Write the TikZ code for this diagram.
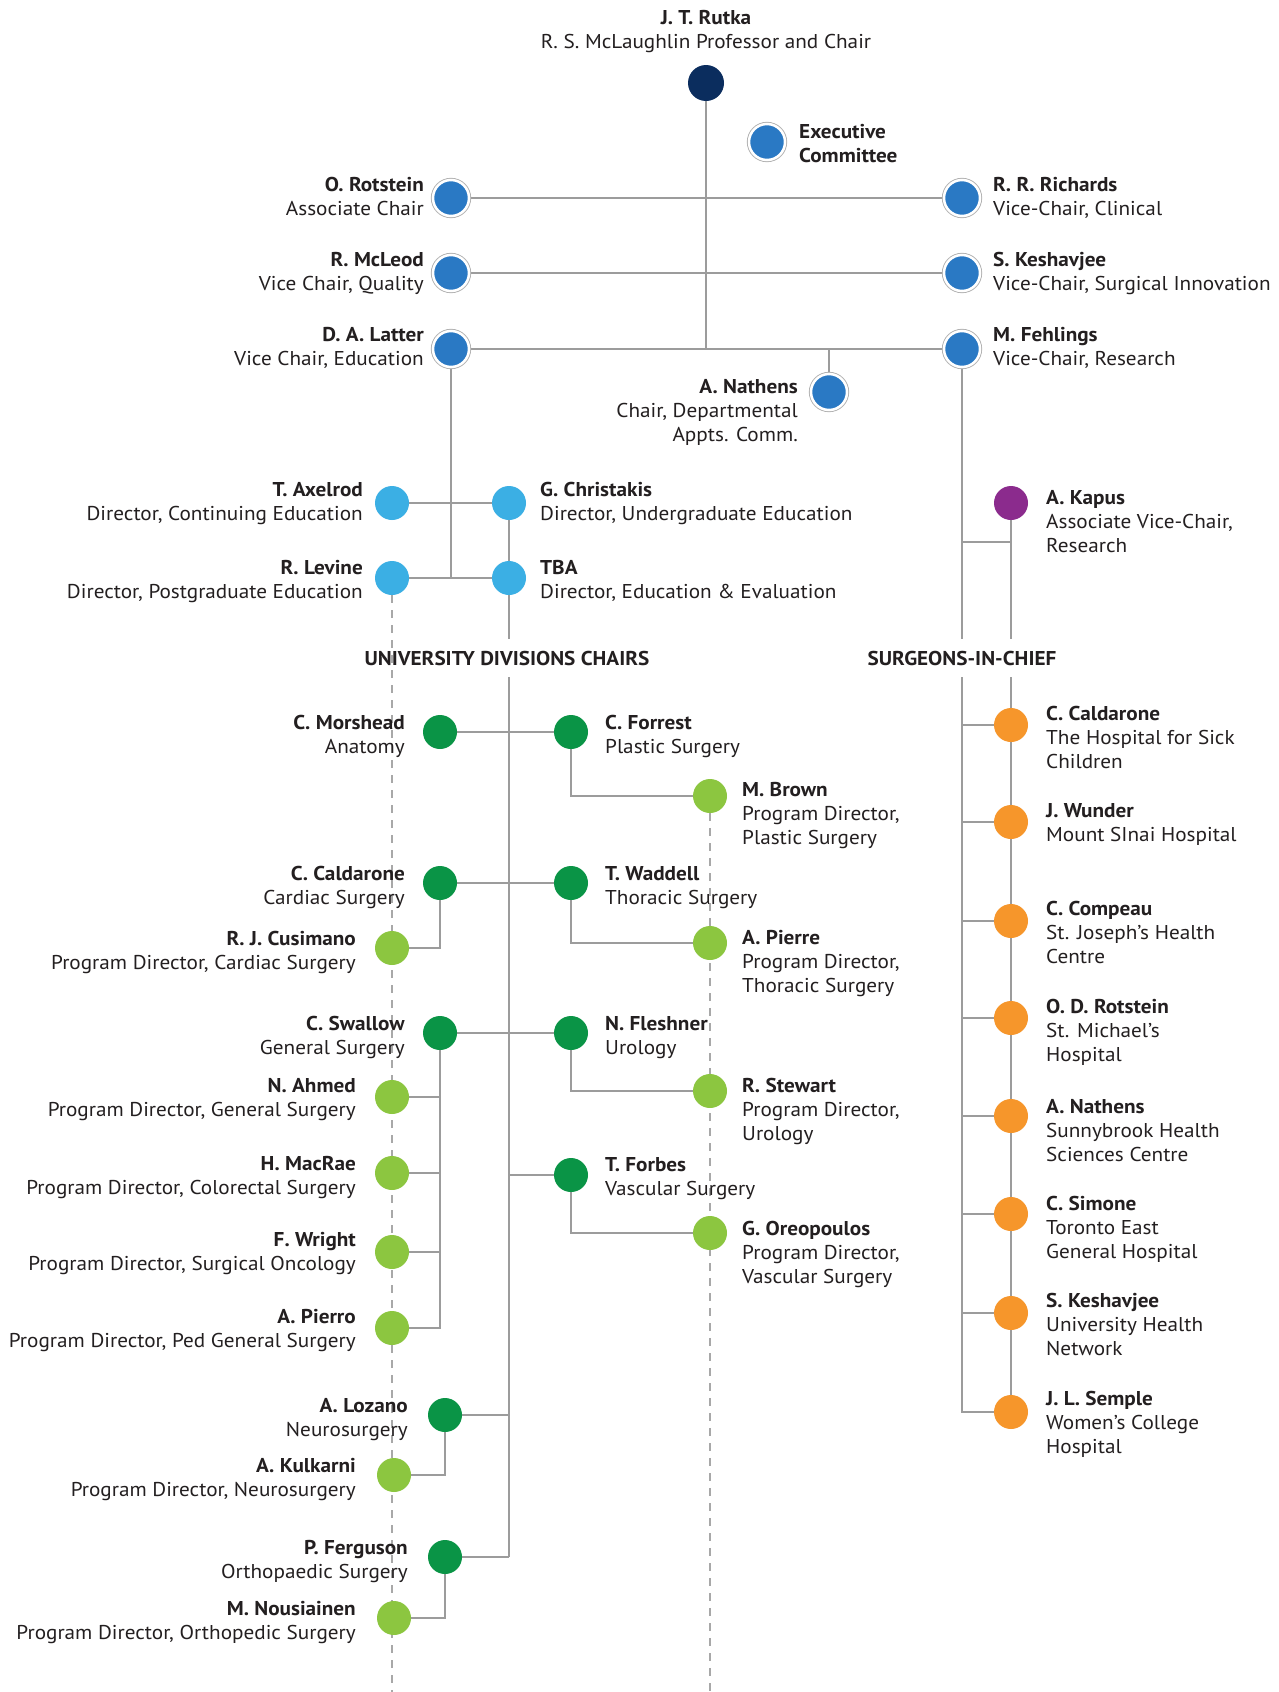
\documentclass[tikz,border=0pt]{standalone}
\usepackage{fontspec}
\setmainfont{PT Sans}[FakeStretch=1.06]
\usetikzlibrary{calc}
\definecolor{navy}{HTML}{0B2D5E}
\definecolor{cblue}{HTML}{2A79C4}
\definecolor{lblue}{HTML}{3BAFE4}
\definecolor{purp}{HTML}{8B2B8D}
\definecolor{dgreen}{HTML}{0A9446}
\definecolor{lgreen}{HTML}{8CC640}
\definecolor{orng}{HTML}{F6962B}
\definecolor{lgray}{HTML}{9C9C9C}
\definecolor{dashgray}{HTML}{A8A8A8}
\definecolor{ringgray}{HTML}{B0B0B0}
\definecolor{txt}{HTML}{231F20}
\pgfdeclarelayer{bg}
\pgfsetlayers{bg,main}
\newcommand\fsz{\fontsize{20}{24}\selectfont}
\begin{document}
\begin{tikzpicture}[x=1pt,y=-1pt,
  dotc/.style={circle, inner sep=0pt, minimum size=34pt, fill=#1},
  rdot/.style={circle, inner sep=0pt, minimum size=36pt, fill=cblue, draw=white, line width=2.5pt, preaction={draw=ringgray, line width=4.3pt}},
  conn/.style={draw=lgray, line width=1.6pt},
  dsh/.style={draw=dashgray, line width=1.3pt, dash pattern=on 8pt off 7pt},
  lab/.style={inner sep=0pt, font=\fsz, text=txt},
  labL/.style={lab, anchor=north east, align=right},
  labR/.style={lab, anchor=north west, align=left},
  head/.style={inner xsep=0pt, inner ysep=12pt, font=\fsz\bfseries, text=txt}]
\useasboundingbox (0,0) rectangle (1279,1692);
\coordinate (bot) at (0,1692);
\coordinate (kj) at (1011,542);

% ---------- top ----------
\node[circle, inner sep=0pt, minimum size=36pt, fill=navy] (rutka) at (706,83) {};
\node[lab, anchor=north, align=center] (rutkaT) at (706,10) {\textbf{J. T. Rutka}\\R. S. McLaughlin Professor and Chair};
\node[rdot] (exec) at (767,142) {};
\node[labR] (execT) at (799,124) {\textbf{Executive}\\\textbf{Committee}};

\node[rdot] (rot) at (451,198) {};
\node[labL] (rotT) at (424,177) {\textbf{O. Rotstein}\\Associate Chair};
\node[rdot] (rich) at (962,198) {};
\node[labR] (richT) at (993,177) {\textbf{R. R. Richards}\\Vice-Chair, Clinical};
\node[rdot] (mcl) at (451,273) {};
\node[labL] (mclT) at (424,252) {\textbf{R. McLeod}\\Vice Chair, Quality};
\node[rdot] (kesh) at (962,273) {};
\node[labR] (keshT) at (993,252) {\textbf{S. Keshavjee}\\Vice-Chair, Surgical Innovation};
\node[rdot] (lat) at (451,349) {};
\node[labL] (latT) at (424,327) {\textbf{D. A. Latter}\\Vice Chair, Education};
\node[rdot] (feh) at (962,349) {};
\node[labR] (fehT) at (993,327) {\textbf{M. Fehlings}\\Vice-Chair, Research};
\node[rdot] (nat) at (829,392) {};
\node[labL] (natT) at (798,379) {\textbf{A. Nathens}\\Chair, Departmental\\Appts. Comm.};

% ---------- education ----------
\node[dotc=lblue] (axe) at (392,503) {};
\node[labL] (axeT) at (363,482) {\textbf{T. Axelrod}\\Director, Continuing Education};
\node[dotc=lblue] (chr) at (509,503) {};
\node[labR] (chrT) at (540,482) {\textbf{G. Christakis}\\Director, Undergraduate Education};
\node[dotc=lblue] (lev) at (392,578) {};
\node[labL] (levT) at (363,560) {\textbf{R. Levine}\\Director, Postgraduate Education};
\node[dotc=lblue] (tba) at (509,578) {};
\node[labR] (tbaT) at (540,560) {\textbf{TBA}\\Director, Education \& Evaluation};

\node[dotc=purp] (kap) at (1011,503) {};
\node[labR] (kapT) at (1046,490) {\textbf{A. Kapus}\\Associate Vice-Chair,\\Research};

\node[head] (udc) at (507,658) {UNIVERSITY DIVISIONS CHAIRS};
\node[head] (soc) at (962,658) {SURGEONS-IN-CHIEF};

% ---------- divisions ----------
\node[dotc=dgreen] (mor) at (440,732) {};
\node[labL] (morT) at (405,715) {\textbf{C. Morshead}\\Anatomy};
\node[dotc=dgreen] (forr) at (571,732) {};
\node[labR] (forrT) at (605,715) {\textbf{C. Forrest}\\Plastic Surgery};
\node[dotc=lgreen] (brown) at (710,796) {};
\node[labR] (brownT) at (742,782) {\textbf{M. Brown}\\Program Director,\\Plastic Surgery};

\node[dotc=dgreen] (cal) at (440,883) {};
\node[labL] (calT) at (405,866) {\textbf{C. Caldarone}\\Cardiac Surgery};
\node[dotc=dgreen] (wad) at (571,883) {};
\node[labR] (wadT) at (605,866) {\textbf{T. Waddell}\\Thoracic Surgery};
\node[dotc=lgreen] (cus) at (392,948) {};
\node[labL] (cusT) at (356,931) {\textbf{R. J. Cusimano}\\Program Director, Cardiac Surgery};
\node[dotc=lgreen] (pie) at (710,943) {};
\node[labR] (pieT) at (742,930) {\textbf{A. Pierre}\\Program Director,\\Thoracic Surgery};

\node[dotc=dgreen] (swa) at (440,1033) {};
\node[labL] (swaT) at (405,1016) {\textbf{C. Swallow}\\General Surgery};
\node[dotc=dgreen] (fle) at (571,1033) {};
\node[labR] (fleT) at (605,1016) {\textbf{N. Fleshner}\\Urology};
\node[dotc=lgreen] (ahm) at (392,1097) {};
\node[labL] (ahmT) at (356,1078) {\textbf{N. Ahmed}\\Program Director, General Surgery};
\node[dotc=lgreen] (ste) at (710,1091) {};
\node[labR] (steT) at (742,1078) {\textbf{R. Stewart}\\Program Director,\\Urology};
\node[dotc=lgreen] (mac) at (392,1173) {};
\node[labL] (macT) at (356,1156) {\textbf{H. MacRae}\\Program Director, Colorectal Surgery};
\node[dotc=dgreen] (forb) at (571,1175) {};
\node[labR] (forbT) at (605,1157) {\textbf{T. Forbes}\\Vascular Surgery};
\node[dotc=lgreen] (oreo) at (710,1233) {};
\node[labR] (oreoT) at (742,1221) {\textbf{G. Oreopoulos}\\Program Director,\\Vascular Surgery};
\node[dotc=lgreen] (wri) at (392,1252) {};
\node[labL] (wriT) at (356,1232) {\textbf{F. Wright}\\Program Director, Surgical Oncology};
\node[dotc=lgreen] (pio) at (392,1328) {};
\node[labL] (pioT) at (356,1309) {\textbf{A. Pierro}\\Program Director, Ped General Surgery};

\node[dotc=dgreen] (loz) at (445,1415) {};
\node[labL] (lozT) at (408,1398) {\textbf{A. Lozano}\\Neurosurgery};
\node[dotc=lgreen] (kul) at (394,1475) {};
\node[labL] (kulT) at (356,1458) {\textbf{A. Kulkarni}\\Program Director, Neurosurgery};
\node[dotc=dgreen] (fer) at (445,1557) {};
\node[labL] (ferT) at (408,1540) {\textbf{P. Ferguson}\\Orthopaedic Surgery};
\node[dotc=lgreen] (nou) at (394,1618) {};
\node[labL] (nouT) at (356,1601) {\textbf{M. Nousiainen}\\Program Director, Orthopedic Surgery};

% ---------- surgeons-in-chief ----------
\node[dotc=orng] (o1) at (1011,725) {};
\node[labR] (o1T) at (1046,706) {\textbf{C. Caldarone}\\The Hospital for Sick\\Children};
\node[dotc=orng] (o2) at (1011,822) {};
\node[labR] (o2T) at (1046,803) {\textbf{J. Wunder}\\Mount SInai Hospital};
\node[dotc=orng] (o3) at (1011,921) {};
\node[labR] (o3T) at (1046,901) {\textbf{C. Compeau}\\St. Joseph’s Health\\Centre};
\node[dotc=orng] (o4) at (1011,1018) {};
\node[labR] (o4T) at (1046,999) {\textbf{O. D. Rotstein}\\St. Michael’s\\Hospital};
\node[dotc=orng] (o5) at (1011,1116) {};
\node[labR] (o5T) at (1046,1099) {\textbf{A. Nathens}\\Sunnybrook Health\\Sciences Centre};
\node[dotc=orng] (o6) at (1011,1214) {};
\node[labR] (o6T) at (1046,1196) {\textbf{C. Simone}\\Toronto East\\General Hospital};
\node[dotc=orng] (o7) at (1011,1313) {};
\node[labR] (o7T) at (1046,1293) {\textbf{S. Keshavjee}\\University Health\\Network};
\node[dotc=orng] (o8) at (1011,1412) {};
\node[labR] (o8T) at (1046,1391) {\textbf{J. L. Semple}\\Women’s College\\Hospital};

% ---------- connectors ----------
\begin{pgfonlayer}{bg}
\fill[white] (0,0) rectangle (1279,1692);
\draw[conn] (rutka) -- (rutka |- lat);
\draw[conn] (rot) -- (rich);
\draw[conn] (mcl) -- (kesh);
\draw[conn] (lat) -- (feh);
\draw[conn] (nat |- lat) -- (nat);
\draw[conn] (lat) -- (lat |- lev);
\draw[conn] (axe) -- (chr);
\draw[conn] (lev) -- (tba);
\draw[conn] (chr) -- (tba);
\draw[conn] (tba) -- (tba |- udc.north);
\draw[conn] (tba |- udc.south) -- (tba |- fer);
\draw[dsh] (lev) -- (lev |- bot);
\draw[dsh] (brown) -- (brown |- bot);
% research / surgeons
\draw[conn] (feh) -- (feh |- soc.north);
\draw[conn] (feh |- soc.south) |- (o8);
\draw[conn] (kap) -- (kap |- soc.north);
\draw[conn] (feh |- kj) -- (kj);
\draw[conn] (kap |- soc.south) -- (o1);
\draw[conn] (o1) -- (o2);
\draw[conn] (o2) -- (o3);
\draw[conn] (o3) -- (o4);
\draw[conn] (o4) -- (o5);
\draw[conn] (o5) -- (o6);
\draw[conn] (o6) -- (o7);
\draw[conn] (o7) -- (o8);
\foreach \o in {o1,o2,o3,o4,o5,o6,o7} \draw[conn] (feh |- \o) -- (\o);
% divisions
\draw[conn] (mor) -- (forr);
\draw[conn] (forr) |- (brown);
\draw[conn] (cal) -- (wad);
\draw[conn] (cal) |- (cus);
\draw[conn] (wad) |- (pie);
\draw[conn] (swa) -- (fle);
\draw[conn] (swa) |- (pio);
\draw[conn] (swa |- ahm) -- (ahm);
\draw[conn] (swa |- mac) -- (mac);
\draw[conn] (swa |- wri) -- (wri);
\draw[conn] (fle) |- (ste);
\draw[conn] (tba |- forb) -- (forb);
\draw[conn] (forb) |- (oreo);
\draw[conn] (tba |- loz) -- (loz);
\draw[conn] (loz) |- (kul);
\draw[conn] (tba |- fer) -- (fer);
\draw[conn] (fer) |- (nou);
\end{pgfonlayer}
\end{tikzpicture}
\end{document}
